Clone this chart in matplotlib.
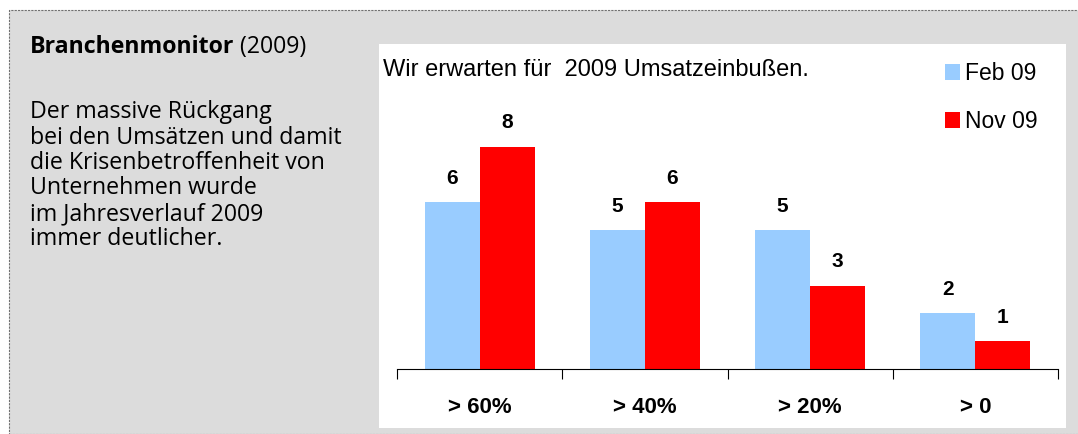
import matplotlib.pyplot as plt
from matplotlib.patches import Rectangle

# daten
kategorien = ['> 60%', '> 40%', '> 20%', '> 0']
feb09 = [6, 5, 5, 2]
nov09 = [8, 6, 3, 1]
serien = ['Feb 09', 'Nov 09']
farben = ['#99ccff', '#ff0000']

titel = 'Branchenmonitor'
titel_jahr = ' (2009)'
text_zeilen = ['Der massive Rückgang',
               'bei den Umsätzen und damit',
               'die Krisenbetroffenheit von',
               'Unternehmen wurde',
               'im Jahresverlauf 2009',
               'immer deutlicher.']
diagramm_titel = 'Wir erwarten für  2009 Umsatzeinbußen.'

W, H = 1078, 435

def fx(px):
    return px / W

def fy(py):
    return 1 - py / H

fig = plt.figure(figsize=(W / 100, H / 100), dpi=100)

# grauer hintergrund mit gestricheltem rahmen
fig.patches.append(Rectangle((fx(9), 0), fx(W - 9) + 0.01, fy(11), transform=fig.transFigure,
                             facecolor='#dcdcdc', edgecolor='#707070', linewidth=0.8,
                             linestyle=(0, (2, 1)), zorder=0))
# weisse box
fig.patches.append(Rectangle((fx(379), fy(429)), fx(1066 - 379), (429 - 45) / H,
                             transform=fig.transFigure, facecolor='white', edgecolor='none', zorder=1))

# linker text
gr = 16.7
t = fig.text(fx(30), fy(47), titel, fontsize=gr, fontweight='bold', family='Open Sans',
             va='center', ha='left')
fig.canvas.draw()
bb = t.get_window_extent()
fig.text(bb.x1 / W, fy(47), titel_jahr, fontsize=gr, family='Open Sans', va='center', ha='left')
for i, zeile in enumerate(text_zeilen):
    fig.text(fx(30), fy(112 + i * 25.5), zeile, fontsize=gr, family='Open Sans',
             va='center', ha='left')

# balkendiagramm
basis = 370
px_pro_einheit = 27.8
oben = 100
ax = fig.add_axes([fx(397), fy(basis), fx(1058 - 397), (basis - oben) / H])
ax.set_facecolor('none')
ax.set_zorder(2)

x = range(len(kategorien))
b = 1 / 3
for i, (werte, name, farbe) in enumerate(zip([feb09, nov09], serien, farben)):
    pos = [k + 0.5 + (i - 0.5) * b for k in x]
    bars = ax.bar(pos, werte, width=b, color=farbe, label=name)
    for p, v in zip(pos, werte):
        ax.text(p, v + 0.55, str(v), ha='center', va='bottom', fontsize=15,
                fontweight='bold', family='Liberation Sans')

ax.set_xlim(0, len(kategorien))
ax.set_ylim(0, (basis - oben) / px_pro_einheit)
ax.set_xticks(range(len(kategorien) + 1))
ax.set_xticklabels([])
ax.tick_params(axis='x', direction='out', length=7, width=0.8, color='black')
ax.set_yticks([])
for s in ['top', 'right', 'left']:
    ax.spines[s].set_visible(False)
ax.spines['bottom'].set_linewidth(0.8)

for k, kat in enumerate(kategorien):
    ax.text(k + 0.5, -38 / px_pro_einheit, kat, ha='center', va='center', fontsize=16,
            fontweight='bold', family='Liberation Sans')

fig.text(fx(383), fy(70), diagramm_titel, fontsize=17, family='Liberation Sans',
         va='center', ha='left')

# legende
for i, (name, farbe) in enumerate(zip(serien, farben)):
    y = 73 + i * 48
    fig.patches.append(Rectangle((fx(945), fy(y + 8)), fx(15), 16 / H, transform=fig.transFigure,
                                 facecolor=farbe, edgecolor='none', zorder=3))
    fig.text(fx(965), fy(y), name, fontsize=16.5, family='Liberation Sans', va='center', ha='left')

fig.savefig('out.png', dpi=100)
